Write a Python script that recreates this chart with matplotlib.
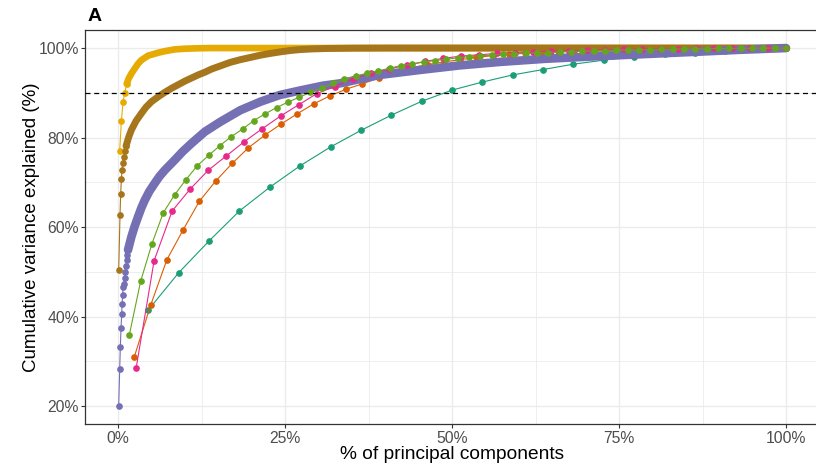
import numpy as np
import matplotlib
matplotlib.use("Agg")
import matplotlib.pyplot as plt

plt.rcParams['font.family'] = ['Liberation Sans', 'DejaVu Sans']

# number of principal components per data set (x = component index / n)
n_teal = 22
n_orange = 41
n_pink = 37
n_green = 59

teal_y = [41.5, 49.8, 56.9, 63.6, 68.9, 73.7, 77.9, 81.6, 85.0, 88.1, 90.6,
          92.4, 94.0, 95.2, 96.4, 97.3, 98.1, 98.6, 99.0, 99.4, 99.7, 100.0]
orange_y = [31.0, 42.5, 52.7, 59.4, 65.8, 70.3, 74.2, 77.7, 80.5, 83.0,
            85.3, 87.5, 89.3, 90.8, 92.0, 93.3, 94.5, 95.6, 96.3, 96.9,
            97.4, 97.9, 98.3, 98.6, 98.9, 99.1, 99.3, 99.4, 99.5, 99.6,
            99.65, 99.7, 99.75, 99.8, 99.85, 99.9, 99.92, 99.95, 99.97, 99.99, 100.0]
pink_y = [28.4, 52.5, 63.6, 68.5, 72.7, 75.9, 79.1, 82.0, 84.8, 87.3,
          89.8, 91.4, 93.1, 94.4, 95.3, 96.2, 97.0, 97.7, 98.2, 98.5,
          98.8, 99.0, 99.15, 99.3, 99.4, 99.5, 99.6, 99.7, 99.75, 99.8,
          99.85, 99.9, 99.93, 99.96, 99.98, 99.99, 100.0]
green_y = [35.9, 47.9, 56.3, 63.2, 67.2, 70.6, 73.7, 76.0, 78.2, 80.2,
           81.9, 83.8, 85.3, 86.7, 87.9, 89.0, 90.1, 91.1, 92.1, 93.0,
           93.7, 94.4, 94.9, 95.5, 96.1, 96.4, 96.9, 97.2, 97.5, 97.8,
           98.1, 98.3, 98.4, 98.6, 98.7, 98.8, 98.95, 99.0, 99.1, 99.2,
           99.3, 99.35, 99.4, 99.5, 99.55, 99.6, 99.65, 99.7, 99.75, 99.8,
           99.83, 99.86, 99.9, 99.92, 99.94, 99.96, 99.98, 99.99, 100.0]

# dense data sets: first separable points, then the merged band of points
gold_pts_x = [0.25, 0.5, 0.75, 1.0, 1.3]
gold_pts_y = [77.0, 83.7, 87.9, 90.0, 92.0]
gold_band_x = [1.3, 1.6, 2.0, 2.5, 3.0, 3.5, 4.5, 6.0, 7.0, 8.5, 10.0, 12.0,
               14.0, 100.0]
gold_band_y = [92.0, 93.2, 94.3, 95.4, 96.5, 97.3, 98.3, 98.95, 99.3, 99.7,
               99.85, 99.95, 100.0, 100.0]

brown_pts_x = [0.1, 0.3, 0.4, 0.5, 0.6, 0.7, 0.85, 1.0, 1.2]
brown_pts_y = [50.4, 62.8, 67.4, 70.7, 72.7, 74.3, 75.7, 77.0, 78.1]
brown_band_x = [1.2, 1.6, 2.0, 2.7, 3.5, 4.2, 5.0, 6.0, 7.0, 8.0, 9.0, 10.0,
                11.0, 12.0, 13.0, 14.0, 15.3, 16.8, 18.3, 19.8, 21.3, 22.8,
                24.3, 25.8, 27.2, 29.0, 31.2, 35.0, 40.0, 100.0]
brown_band_y = [78.1, 80.1, 81.7, 83.7, 85.4, 86.8, 88.0, 89.1, 90.1, 91.0,
                91.8, 92.6, 93.3, 94.0, 94.6, 95.3, 96.0, 96.8, 97.4, 97.9,
                98.4, 98.8, 99.15, 99.45, 99.65, 99.8, 99.9, 99.97, 100.0, 100.0]

purple_pts_x = [0.1, 0.25, 0.35, 0.45, 0.55, 0.6, 0.7, 0.75, 0.85, 1.0,
                1.1, 1.2, 1.3, 1.4, 1.5]
purple_pts_y = [20.0, 28.2, 33.3, 37.5, 40.5, 42.7, 44.8, 46.5, 47.2, 48.6,
                50.0, 51.3, 52.6, 53.7, 54.9]
purple_band_x = [1.5, 2.0, 2.5, 3.0, 3.5, 4.0, 4.7, 5.5, 6.2, 7.0, 8.5, 9.7,
                 11.0, 13.0, 15.3, 18.3, 21.3, 24.2, 27.2, 30.7, 33.2, 39.2,
                 45.2, 51.0, 57.2, 64.0, 72.2, 79.6, 87.1, 93.0, 100.0]
purple_band_y = [54.9, 57.8, 60.2, 62.3, 64.3, 66.0, 68.0, 69.8, 71.3, 72.7,
                 75.0, 76.9, 78.7, 81.3, 83.5, 86.1, 88.0, 89.5, 90.5, 91.6,
                 92.1, 94.0, 95.1, 96.1, 96.9, 97.6, 98.2, 98.7, 99.2, 99.6,
                 100.0]

threshold = 90

teal = '#1B9E77'
orange = '#D95F02'
purple = '#7570B3'
pink = '#E7298A'
green = '#66A61E'
gold = '#E6AB02'
brown = '#A6761D'


def pct_x(n):
    return np.arange(1, n + 1) / n * 100


fig = plt.figure(figsize=(8.16, 4.66), dpi=100)
ax = fig.add_axes([0.1037, 0.0903, 0.9005, 0.845])

ms = 3.8
lw = 0.8

ax.plot(pct_x(n_teal), teal_y, '-o', color=teal, lw=lw, ms=ms, zorder=3)
ax.plot(pct_x(n_orange), orange_y, '-o', color=orange, lw=lw, ms=ms, zorder=3)

ax.plot(gold_band_x, gold_band_y, color=gold, lw=4.8, solid_capstyle='round',
        solid_joinstyle='round', zorder=4)
ax.plot(gold_pts_x, gold_pts_y, '-o', color=gold, lw=lw, ms=ms, zorder=4)
ax.plot(brown_band_x, brown_band_y, color=brown, lw=5.0, solid_capstyle='round',
        solid_joinstyle='round', zorder=5)
ax.plot(brown_pts_x, brown_pts_y, '-o', color=brown, lw=lw, ms=ms, zorder=5)
ax.plot(purple_band_x, purple_band_y, color=purple, lw=6.2, solid_capstyle='round',
        solid_joinstyle='round', zorder=6)
ax.plot(purple_pts_x, purple_pts_y, '-o', color=purple, lw=lw, ms=ms, zorder=6)

ax.plot(pct_x(n_pink), pink_y, '-o', color=pink, lw=lw, ms=ms, zorder=7)
ax.plot(pct_x(n_green), green_y, '-o', color=green, lw=lw, ms=ms, zorder=8)

ax.axhline(threshold, color='black', lw=0.9, ls=(0, (4, 3)), zorder=9)

ax.set_xlim(-5, 105)
ax.set_ylim(16, 104)
ax.set_xticks([0, 25, 50, 75, 100])
ax.set_xticklabels(['0%', '25%', '50%', '75%', '100%'])
ax.set_yticks([20, 40, 60, 80, 100])
ax.set_yticklabels(['20%', '40%', '60%', '80%', '100%'])
ax.set_xticks([12.5, 37.5, 62.5, 87.5], minor=True)
ax.set_yticks([30, 50, 70, 90], minor=True)
ax.grid(which='major', color='#EBEBEB', lw=1.0, zorder=0)
ax.grid(which='minor', color='#EBEBEB', lw=0.6, zorder=0)
ax.set_axisbelow(True)
ax.tick_params(which='major', length=2.7, width=0.8, color='#333333',
               labelcolor='#4D4D4D', labelsize=11.3)
ax.tick_params(axis='x', which='major', pad=2.5)
ax.tick_params(axis='y', which='major', pad=1.5)
ax.tick_params(which='minor', length=0)
for s in ax.spines.values():
    s.set_color('#333333')
    s.set_linewidth(0.9)

ax.set_xlabel('% of principal components', fontsize=13.8, color='black', labelpad=0)
ax.set_ylabel('Cumulative variance explained (%)', fontsize=13.5, color='black', labelpad=-1)
fig.text(0.107, 0.955, 'A', fontsize=14, fontweight='bold')

fig.savefig('out.png', dpi=100)
